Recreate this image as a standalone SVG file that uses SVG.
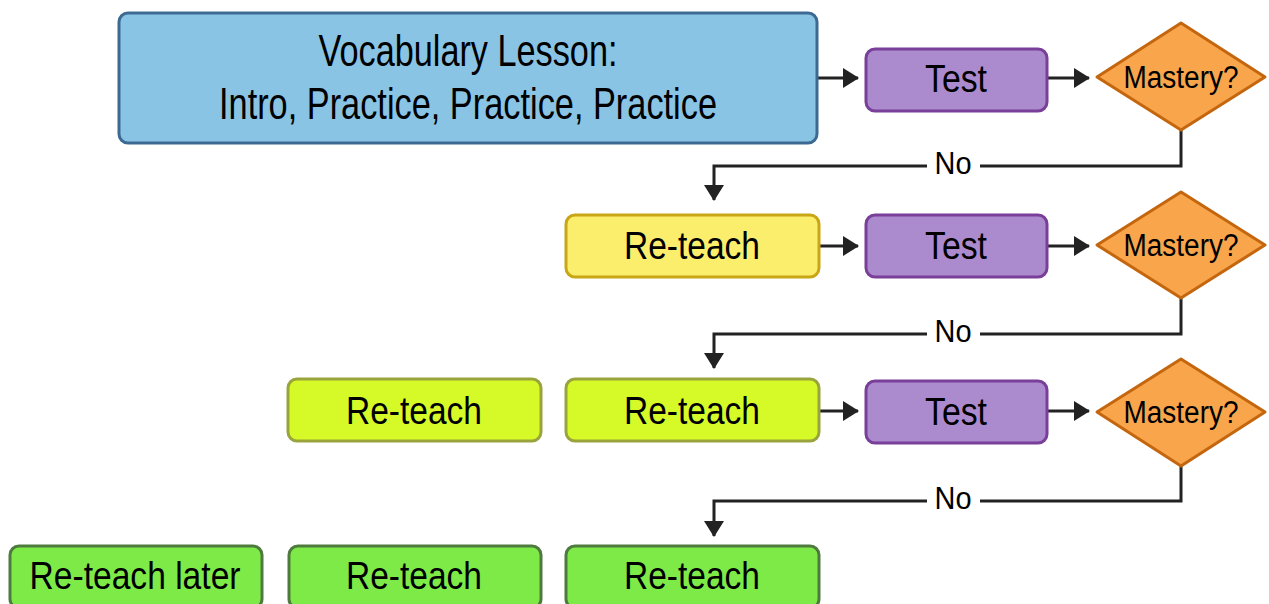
<svg xmlns="http://www.w3.org/2000/svg" width="1269" height="604" viewBox="0 0 1269 604">
<style>
text{font-family:"Liberation Sans",Arial,sans-serif;fill:#000;text-anchor:middle}
.box{stroke-width:3}
.blue{fill:#8ac4e4;stroke:#3d6a93}
.test{fill:#ab8bce;stroke:#7a3f99}
.dia{fill:#f9a54b;stroke:#c4660e;stroke-width:3;stroke-linejoin:round}
.yel{fill:#faee6c;stroke:#c8a616}
.lime{fill:#d6fa28;stroke:#9aa43c}
.grn{fill:#7eea48;stroke:#4e7a3e}
.con{fill:none;stroke:#222;stroke-width:3}
.t37{font-size:38px}
.t29{font-size:31px}
.t36{font-size:38px}
.t30{font-size:31px}
.t44{font-size:45px}
</style>
<defs>
<marker id="ah" markerUnits="userSpaceOnUse" markerWidth="18" markerHeight="22" refX="15" refY="10" orient="auto">
<path d="M0,0 L16,10 L0,20 Z" fill="#222"/>
</marker>
</defs>
<g id="connectors">
<path class="con" d="M818,78 H858" marker-end="url(#ah)"/>
<path class="con" d="M1048,78 H1089" marker-end="url(#ah)"/>
<path class="con" d="M819,246 H858" marker-end="url(#ah)"/>
<path class="con" d="M1048,246 H1089" marker-end="url(#ah)"/>
<path class="con" d="M819,411 H858" marker-end="url(#ah)"/>
<path class="con" d="M1048,411 H1089" marker-end="url(#ah)"/>
<path class="con" d="M1181,130 V166 H980"/>
<path class="con" d="M927,166 H714 V200" marker-end="url(#ah)"/>
<text class="t30" x="953" y="174" textLength="37" lengthAdjust="spacingAndGlyphs">No</text>
<path class="con" d="M1181,298 V334 H980"/>
<path class="con" d="M927,334 H714 V368" marker-end="url(#ah)"/>
<text class="t30" x="953" y="342" textLength="37" lengthAdjust="spacingAndGlyphs">No</text>
<path class="con" d="M1181,466 V501 H980"/>
<path class="con" d="M927,501 H714 V536" marker-end="url(#ah)"/>
<text class="t30" x="953" y="509" textLength="37" lengthAdjust="spacingAndGlyphs">No</text>
</g>
<g id="vocab">
<rect class="box blue" x="119" y="13" width="698" height="130" rx="9"/>
<text class="t44" x="468" y="66" textLength="299" lengthAdjust="spacingAndGlyphs">Vocabulary Lesson:</text>
<text class="t44" x="468" y="119" textLength="498" lengthAdjust="spacingAndGlyphs">Intro, Practice, Practice, Practice</text>
</g>
<g id="test1">
<rect class="box test" x="866" y="49" width="181" height="62" rx="9"/>
<text class="t37" x="956" y="92" textLength="62" lengthAdjust="spacingAndGlyphs">Test</text>
</g>
<g id="mastery1">
<path class="dia" d="M1181,23 L1265,77 L1181,130 L1097,77 Z"/>
<text class="t29" x="1181" y="88" textLength="115" lengthAdjust="spacingAndGlyphs">Mastery?</text>
</g>
<g id="reteach2">
<rect class="box yel" x="566" y="215" width="253" height="62" rx="9"/>
<text class="t36" x="692" y="259" textLength="136" lengthAdjust="spacingAndGlyphs">Re-teach</text>
</g>
<g id="test2">
<rect class="box test" x="866" y="215" width="181" height="62" rx="9"/>
<text class="t37" x="956" y="259" textLength="62" lengthAdjust="spacingAndGlyphs">Test</text>
</g>
<g id="mastery2">
<path class="dia" d="M1181,192 L1265,245 L1181,298 L1097,245 Z"/>
<text class="t29" x="1181" y="256" textLength="115" lengthAdjust="spacingAndGlyphs">Mastery?</text>
</g>
<g id="reteach3a">
<rect class="box lime" x="288" y="379" width="253" height="62" rx="9"/>
<text class="t36" x="414" y="424" textLength="136" lengthAdjust="spacingAndGlyphs">Re-teach</text>
</g>
<g id="reteach3b">
<rect class="box lime" x="566" y="379" width="253" height="62" rx="9"/>
<text class="t36" x="692" y="424" textLength="136" lengthAdjust="spacingAndGlyphs">Re-teach</text>
</g>
<g id="test3">
<rect class="box test" x="866" y="381" width="181" height="62" rx="9"/>
<text class="t37" x="956" y="425" textLength="62" lengthAdjust="spacingAndGlyphs">Test</text>
</g>
<g id="mastery3">
<path class="dia" d="M1181,359 L1265,412 L1181,466 L1097,412 Z"/>
<text class="t29" x="1181" y="423" textLength="115" lengthAdjust="spacingAndGlyphs">Mastery?</text>
</g>
<g id="later">
<rect class="box grn" x="10" y="546" width="252" height="62" rx="9"/>
<text class="t36" x="135" y="589" textLength="211" lengthAdjust="spacingAndGlyphs">Re-teach later</text>
</g>
<g id="reteach4a">
<rect class="box grn" x="289" y="546" width="252" height="62" rx="9"/>
<text class="t36" x="414" y="589" textLength="136" lengthAdjust="spacingAndGlyphs">Re-teach</text>
</g>
<g id="reteach4b">
<rect class="box grn" x="566" y="546" width="253" height="62" rx="9"/>
<text class="t36" x="692" y="589" textLength="136" lengthAdjust="spacingAndGlyphs">Re-teach</text>
</g>
</svg>
